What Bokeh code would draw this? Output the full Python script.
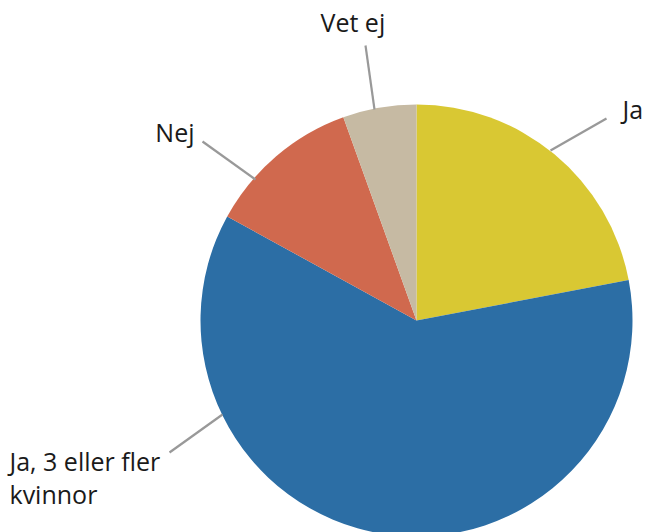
import math
from bokeh.plotting import figure
from bokeh.models import Range1d, ColumnDataSource
from bokeh.core.properties import value
from bokeh.embed import file_html
from bokeh.resources import INLINE

# ---- data ----
categories = ["Ja", "Ja, 3 eller fler kvinnor", "Nej", "Vet ej"]
shares = [22.0, 61.0, 11.5, 5.5]
colors = ["#D9C833", "#2C6EA5", "#D0694E", "#C6BAA3"]

W, H = 647, 532
PAGE_H = 532

def py(y):  # page y -> data y
    return PAGE_H - y

p = figure(width=W, height=H, output_backend="svg", toolbar_location=None,
           x_range=Range1d(0, W), y_range=Range1d(PAGE_H - H, PAGE_H),
           min_border=0)
p.axis.visible = False
p.grid.visible = False
p.outline_line_color = None
p.background_fill_color = "white"
p.border_fill_color = "white"

cx, cy, r = 416, py(320), 216
total = sum(shares)
starts, ends = [], []
a = math.pi / 2
for s in shares:
    starts.append(a)
    a -= 2 * math.pi * s / total
    ends.append(a)

src = ColumnDataSource(dict(start=starts, end=ends, color=colors, cat=categories))
p.wedge(x=cx, y=cy, radius=r, start_angle="start", end_angle="end",
        direction="clock", fill_color="color", line_color=None, source=src)

# leader lines (page coords)
leaders = [((606, 118), (550, 150)),
           ((169, 452), (222, 414)),
           ((202, 141), (255, 179)),
           ((365, 45), (374, 109))]
p.multi_line(xs=[[a[0], b[0]] for a, b in leaders],
             ys=[[py(a[1]), py(b[1])] for a, b in leaders],
             line_color="#999999", line_width=2.2)

font = value("Open Sans")
labels = [("Ja", 622, 108, "left"),
          ("Ja, 3 eller fler", 9, 460, "left"),
          ("kvinnor", 9, 493, "left"),
          ("Nej", 194, 131, "right"),
          ("Vet ej", 320, 21, "left")]
for t, x, y, al in labels:
    p.text(x=[x], y=[py(y)], text=[t], text_font=font, text_font_size="25px",
           text_color="#1a1a1a", text_align=al, text_baseline="middle")

open("out.html", "w").write(file_html(p, INLINE))
